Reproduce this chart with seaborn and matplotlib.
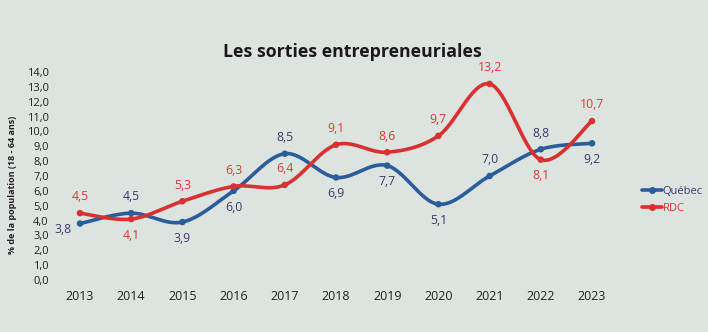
import numpy as np
import pandas as pd
import matplotlib
matplotlib.use("Agg")
import matplotlib.pyplot as plt
import seaborn as sns
from matplotlib.lines import Line2D

years = [2013, 2014, 2015, 2016, 2017, 2018, 2019, 2020, 2021, 2022, 2023]
quebec = [3.8, 4.5, 3.9, 6.0, 8.5, 6.9, 7.7, 5.1, 7.0, 8.8, 9.2]
rdc = [4.5, 4.1, 5.3, 6.3, 6.4, 9.1, 8.6, 9.7, 13.2, 8.1, 10.7]
yticks = [0, 1, 2, 3, 4, 5, 6, 7, 8, 9, 10, 11, 12, 13, 14]

BG = "#dde3df"
BLUE = "#2b5c9c"
RED = "#d93030"
BLUE_TXT = "#3b3b6b"
RED_TXT = "#d93a35"
FONT = ["Open Sans", "DejaVu Sans"]

sns.set_theme(style="white")
plt.rcParams["font.family"] = FONT


def smooth(xs, ys, n=30):
    xs = np.asarray(xs, float)
    ys = np.asarray(ys, float)
    px = np.concatenate([[xs[0]], xs, [xs[-1]]])
    py = np.concatenate([[ys[0]], ys, [ys[-1]]])
    ox, oy = [], []
    for i in range(1, len(px) - 2):
        p0x, p1x, p2x, p3x = px[i - 1], px[i], px[i + 1], px[i + 2]
        p0y, p1y, p2y, p3y = py[i - 1], py[i], py[i + 1], py[i + 2]
        c1x, c1y = p1x + (p2x - p0x) / 6, p1y + (p2y - p0y) / 6
        c2x, c2y = p2x - (p3x - p1x) / 6, p2y - (p3y - p1y) / 6
        t = np.linspace(0, 1, n, endpoint=(i == len(px) - 3))
        b = lambda a, b_, c, d: ((1 - t) ** 3 * a + 3 * (1 - t) ** 2 * t * b_
                                 + 3 * (1 - t) * t ** 2 * c + t ** 3 * d)
        ox.append(b(p1x, c1x, c2x, p2x))
        oy.append(b(p1y, c1y, c2y, p2y))
    return np.concatenate(ox), np.concatenate(oy)


idx = np.arange(len(years))
frames = []
for name, vals in [("Québec", quebec), ("RDC", rdc)]:
    sx, sy = smooth(idx, vals)
    frames.append(pd.DataFrame({"x": sx, "y": sy, "serie": name}))
curves = pd.concat(frames, ignore_index=True)
pts = pd.concat([
    pd.DataFrame({"x": idx, "y": quebec, "serie": "Québec"}),
    pd.DataFrame({"x": idx, "y": rdc, "serie": "RDC"}),
], ignore_index=True)

fig = plt.figure(figsize=(7.08, 3.32), dpi=100, facecolor=BG)
ax = fig.add_axes([54.4 / 708, 1 - 280 / 332, (617.6 - 54.4) / 708, 208 / 332])
ax.set_facecolor(BG)

palette = {"Québec": BLUE, "RDC": RED}
sns.lineplot(data=curves, x="x", y="y", hue="serie", palette=palette,
             linewidth=2.6, sort=False, estimator=None, ax=ax, legend=False)
sns.scatterplot(data=pts, x="x", y="y", hue="serie", palette=palette,
                s=22, edgecolor="none", ax=ax, legend=False, zorder=5)

ax.set_xlim(-0.5, len(years) - 0.5)
ax.set_ylim(0, 14)
ax.set_xticks(idx)
ax.set_xticklabels([str(y) for y in years], fontsize=9, color="#222222")
ax.set_yticks(yticks)
ax.set_yticklabels([f"{v:.1f}".replace(".", ",") for v in yticks],
                   fontsize=8, color="#222222")
ax.tick_params(axis="x", length=0, pad=7)
ax.tick_params(axis="y", length=0, pad=4)
for s in ax.spines.values():
    s.set_visible(False)
ax.set_xlabel("")
ax.set_ylabel("")

fmt = lambda v: f"{v:.1f}".replace(".", ",")
# label positions: +1 above, -1 below, "l" left
q_pos = ["l", 1, -1, -1, 1, -1, -1, -1, 1, 1, -1]
r_pos = [1, -1, 1, 1, 1, 1, 1, 1, 1, -1, 1]
for i in idx:
    for vals, poss, col in [(quebec, q_pos, BLUE_TXT), (rdc, r_pos, RED_TXT)]:
        v, p = vals[i], poss[i]
        if p == "l":
            ax.annotate(fmt(v), (i, v), xytext=(-6, -4), textcoords="offset points",
                        ha="right", va="center", fontsize=8.8, color=col)
        else:
            ax.annotate(fmt(v), (i, v), xytext=(0, 7 * p), textcoords="offset points",
                        ha="center", va="bottom" if p > 0 else "top",
                        fontsize=8.8, color=col)

fig.text(352 / 708, 1 - 52 / 332, "Les sorties entrepreneuriales", ha="center",
         va="center", fontsize=12.8, fontweight="bold", color="#1a1a1a")
fig.text(13 / 708, 1 - 185 / 332, "% de la population (18 - 64 ans)", rotation=90,
         ha="center", va="center", fontsize=6.5, fontweight="bold", color="#222222")

handles = [Line2D([], [], color=BLUE, lw=2.6, marker="o", markersize=4),
           Line2D([], [], color=RED, lw=2.6, marker="o", markersize=4)]
leg = fig.legend(handles, ["Québec", "RDC"], loc="center left",
                 bbox_to_anchor=(636 / 708, 1 - 200 / 332), frameon=False,
                 fontsize=8, handlelength=1.8, handletextpad=0.1,
                 labelspacing=0.6, borderpad=0)
leg.get_texts()[0].set_color(BLUE_TXT)
leg.get_texts()[1].set_color(RED_TXT)

fig.savefig("out.png", dpi=100, facecolor=BG)
